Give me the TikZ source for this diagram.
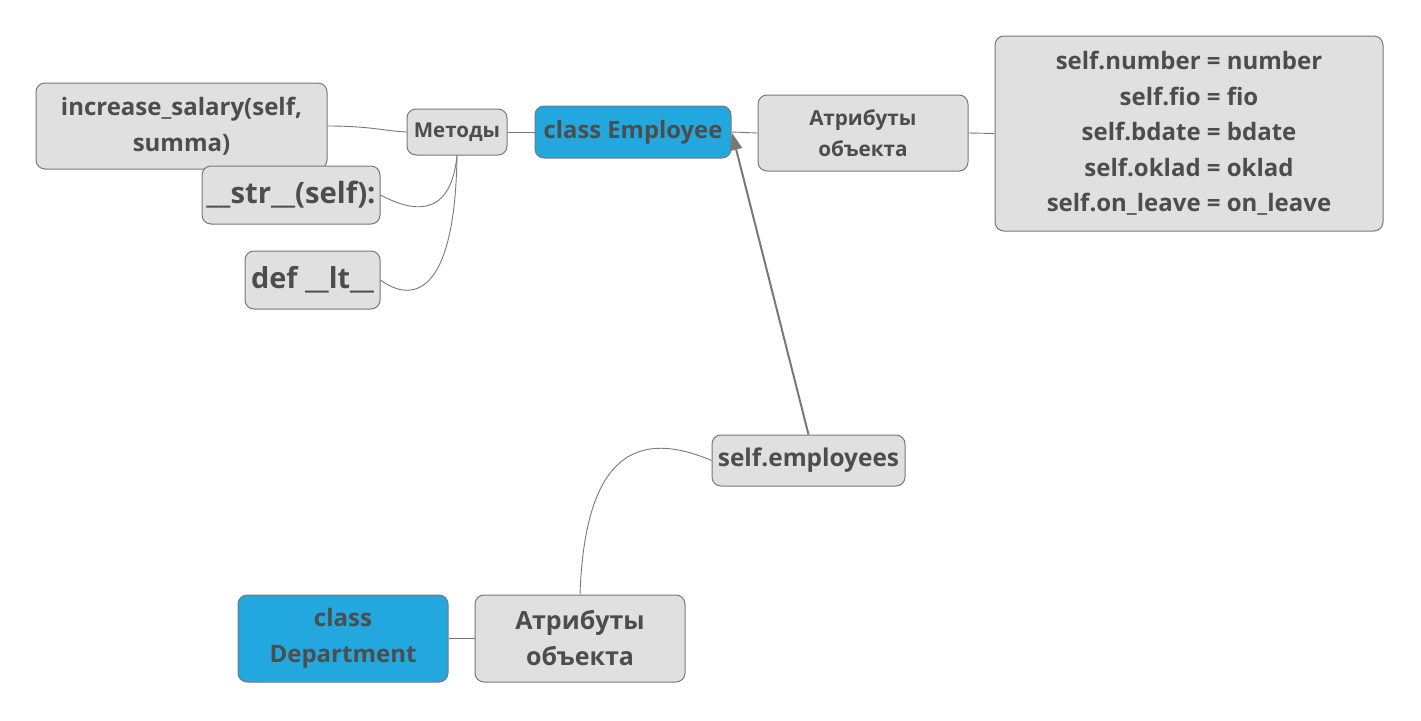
\documentclass[tikz,border=0pt]{standalone}
\usepackage{fontspec}
\setmainfont{Open Sans}
\usetikzlibrary{arrows.meta,positioning}
\definecolor{boxfill}{HTML}{E0E0E0}
\definecolor{boxline}{HTML}{787878}
\definecolor{boxtext}{HTML}{4D4D4D}
\definecolor{mainblue}{HTML}{22A8DF}

\begin{document}
\begin{tikzpicture}[x=1pt,y=-1pt]
\tikzstyle{topic}=[rectangle,rounded corners=9pt,draw=boxline,line width=1pt,fill=boxfill,text=boxtext,align=center,inner sep=0pt]
\tikzstyle{mainclass}=[topic,fill=mainblue]
\tikzstyle{link}=[draw=boxline,line width=0.9pt]
\useasboundingbox (0,0) rectangle (1421,720);
% class Employee
\node[mainclass,minimum width=196pt,minimum height=52pt,font=\fontsize{23.8}{36}\bfseries\selectfont] (emp) at (633,132) {class Employee};
\node[topic,minimum width=100pt,minimum height=46pt,font=\fontsize{20.5}{30}\bfseries\selectfont] (met) at (457,132) {Методы};
\node[topic,minimum width=291pt,minimum height=86pt,font=\fontsize{24}{36}\bfseries\selectfont] (inc) at (181.5,126) {increase\_salary(self,\\summa)};
\node[topic,minimum width=178pt,minimum height=58pt,font=\fontsize{29.3}{36}\bfseries\selectfont] (str) at (291,195) {\_\_str\_\_(self):};
\node[topic,minimum width=135pt,minimum height=58pt,font=\fontsize{28.9}{36}\bfseries\selectfont] (lt) at (312.5,280) {def \_\_lt\_\_};
\node[topic,minimum width=210pt,minimum height=76pt,font=\fontsize{20.7}{31}\bfseries\selectfont] (attr) at (863,133) {Атрибуты\\объекта};
\node[topic,minimum width=388pt,minimum height=195pt,font=\fontsize{24}{35.5}\bfseries\selectfont] (fields) at (1189,133.5) {self.number = number\\self.fio = fio\\self.bdate = bdate\\self.oklad = oklad\\self.on\_leave = on\_leave};
% class Department
\node[mainclass,minimum width=210pt,minimum height=87pt,font=\fontsize{24}{36}\bfseries\selectfont] (dep) at (343,638.5) {class\\Department};
\node[topic,minimum width=210pt,minimum height=87pt,font=\fontsize{25}{36}\bfseries\selectfont] (dattr) at (580,638.5) {Атрибуты\\объекта};
\node[topic,minimum width=193pt,minimum height=51pt,font=\fontsize{24.4}{36}\bfseries\selectfont] (semp) at (808.5,460.5) {self.employees};
% connectors
\draw[link] (met.east) -- (emp.west);
\draw[link] (inc.east) .. controls (370,126) and (385,131) .. (met.west);
\draw[link] (str.east) .. controls (405,208) and (450,225) .. (met.south);
\draw[link] (lt.east) .. controls (410,302) and (455,300) .. (met.south);
\draw[link] (emp.east) -- (attr.west);
\draw[link] (attr.east) -- (fields.west);
\draw[link] (dep.east) -- (dattr.west);
\draw[link] (dattr.north) .. controls (585,450) and (640,430) .. (semp.west);
\draw[draw=boxline,line width=2pt,-{Triangle[length=17pt,width=12pt]}] (semp.north) -- (732,133);
\end{tikzpicture}
\end{document}
